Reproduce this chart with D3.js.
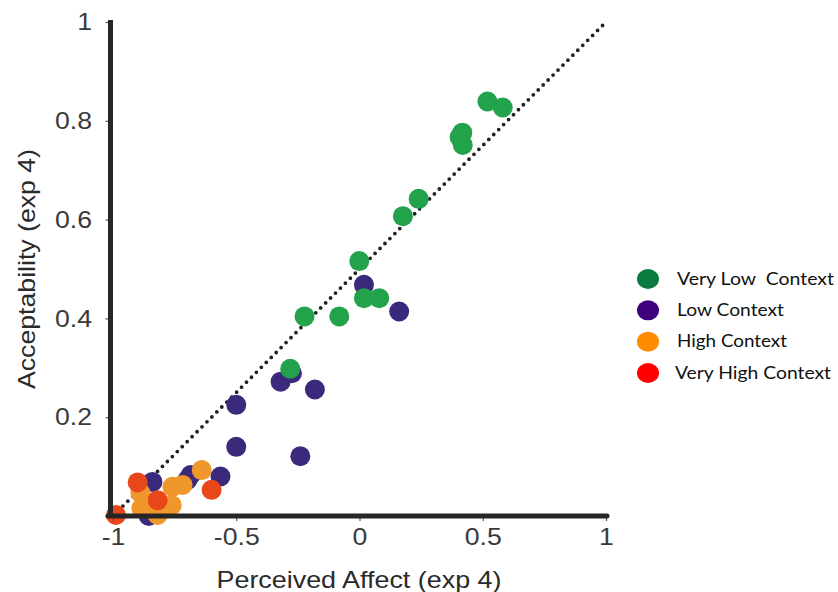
<!DOCTYPE html>
<html><head><meta charset="utf-8">
<script src="https://cdn.jsdelivr.net/npm/d3@7"></script>
<style>body{margin:0;background:#fff}svg{display:block}</style>
</head><body>
<svg id="c" width="838" height="592"></svg>
<script>
const xTicks = [-1, -0.5, 0, 0.5, 1];
const yTicks = [0, 0.2, 0.4, 0.6, 0.8, 1];
const legendLabels = ["Very Low  Context", "Low Context", "High Context", "Very High Context"];

const veryLow = [[0.519,0.839],[0.581,0.827],[0.406,0.767],[0.417,0.776],[0.419,0.751],[0.240,0.642],[0.176,0.607],[-0.001,0.516],[-0.223,0.404],[-0.082,0.404],[0.018,0.441],[0.080,0.441],[-0.281,0.298]];
const low = [[0.018,0.468],[0.161,0.414],[-0.274,0.289],[-0.320,0.272],[-0.181,0.256],[-0.500,0.225],[-0.500,0.140],[-0.240,0.121],[-0.564,0.080],[-0.685,0.083],[-0.698,0.073],[-0.840,0.069],[-0.855,0.0]];
const high = [[-0.640,0.093],[-0.718,0.063],[-0.759,0.059],[-0.762,0.022],[-0.889,0.047],[-0.885,0.016],[-0.819,0.002]];
const veryHigh = [[-0.900,0.068],[-0.819,0.032],[-0.600,0.053],[-0.988,0.002]];

const series = [
  {data: low, color: "#3b2a7c"},
  {data: veryLow, color: "#22a24a"},
  {data: high, color: "#f0972b"},
  {data: veryHigh, color: "#e8471a"}
];
const legendColors = ["#0b7a3e", "#3f007d", "#ff8c00", "#ff0000"];
const legendWidths = [157, 107, 110, 156];

const svg = d3.select("#c");
const x = d3.scaleLinear().domain([-1, 1]).range([113, 606]);
const y = d3.scaleLinear().domain([0, 1]).range([516, 22]);
const SX = 1.11;
const FONT = "24px 'Liberation Sans', Arial, sans-serif";

// diagonal
svg.append("line")
  .attr("x1", x(-1)).attr("y1", y(0)).attr("x2", x(1)).attr("y2", y(1))
  .attr("stroke", "#222").attr("stroke-width", 3.8)
  .attr("stroke-linecap", "round").attr("stroke-dasharray", "0 7");

// points
series.forEach(s => {
  svg.append("g").selectAll("circle").data(s.data).join("circle")
    .attr("cx", d => x(d[0])).attr("cy", d => y(d[1])).attr("r", 10)
    .attr("fill", s.color);
});

// y axis
const yAxis = d3.axisLeft(y).tickValues(yTicks).tickSize(5).tickPadding(13);
const gy = svg.append("g").attr("transform", "translate(110.5,0)").call(yAxis);
gy.select(".domain").remove();
gy.append("line").attr("x1", 0).attr("x2", 0).attr("y1", y(1) - 2).attr("y2", y(0) + 2)
  .attr("stroke", "#262626").attr("stroke-width", 5);
gy.selectAll(".tick line").attr("stroke", "#555").attr("stroke-width", 1.2);
gy.selectAll(".tick text").attr("fill", "#3a3a3a").style("font", FONT)
  .attr("x", -18.5 / SX).attr("transform", `scale(${SX},1)`)
  .text(d => d === 0 ? "" : String(d));

// x axis
const xAxis = d3.axisBottom(x).tickValues(xTicks).tickSize(5).tickPadding(7);
const gx = svg.append("g").attr("transform", "translate(0,516)").call(xAxis);
gx.select(".domain").remove();
gx.append("line").attr("x1", 108).attr("x2", 607).attr("y1", 0).attr("y2", 0)
  .attr("stroke", "#262626").attr("stroke-width", 5).attr("stroke-linecap", "round");
gx.selectAll(".tick line").attr("stroke", "#555").attr("stroke-width", 1.2);
gx.selectAll(".tick text").attr("fill", "#3a3a3a").style("font", FONT)
  .attr("transform", `scale(${SX},1)`)
  .text(d => String(d));

// titles
svg.append("text").attr("x", 359).attr("y", 588).attr("text-anchor", "middle")
  .attr("fill", "#2a2a2a").style("font", FONT)
  .attr("textLength", 285).attr("lengthAdjust", "spacingAndGlyphs")
  .text("Perceived Affect (exp 4)");
svg.append("text").attr("transform", "translate(35,269) rotate(-90)").attr("text-anchor", "middle")
  .attr("fill", "#2a2a2a").style("font", FONT)
  .attr("textLength", 240).attr("lengthAdjust", "spacingAndGlyphs")
  .text("Acceptability (exp 4)");

// legend
const ly = d3.scalePoint().domain(legendLabels).range([279, 373]);
const lg = svg.append("g");
lg.selectAll("ellipse").data(legendLabels).join("ellipse")
  .attr("cx", 648).attr("cy", d => ly(d)).attr("rx", 11).attr("ry", 10)
  .attr("fill", (d, i) => legendColors[i]);
lg.selectAll("text").data(legendLabels).join("text")
  .attr("x", (d, i) => i === 3 ? 675 : 677).attr("y", d => ly(d) + 5.5)
  .attr("fill", "#111").style("font", "16.5px Lato, 'Open Sans', sans-serif")
  .style("white-space", "pre")
  .attr("textLength", (d, i) => legendWidths[i]).attr("lengthAdjust", "spacingAndGlyphs")
  .text(d => d);
</script>
</body></html>
